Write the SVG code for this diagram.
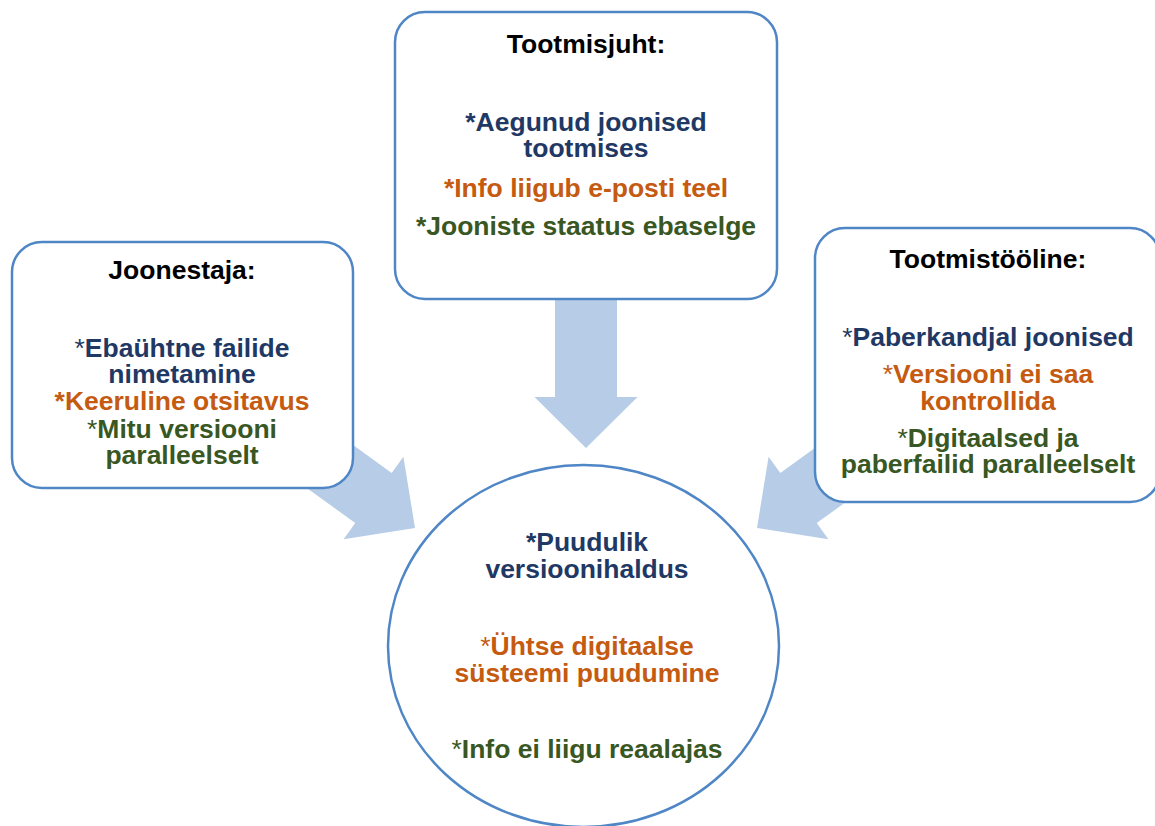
<svg xmlns="http://www.w3.org/2000/svg" width="1155" height="826" viewBox="0 0 1155 826">
  <style>
    .box { fill: #ffffff; stroke: #4F86C6; stroke-width: 2.5; }
    .arrow { fill: #B7CCE6; stroke: none; }
    text { font-family: "Liberation Sans", Arial, sans-serif; font-weight: bold; font-size: 26.5px; text-anchor: middle; }
    .title { fill: #000000; }
    .blue { fill: #1F3864; }
    .orange { fill: #C55A11; }
    .green { fill: #385723; }
    .n { font-weight: normal; }
  </style>
  <rect width="1155" height="826" fill="#ffffff"/>
  <g id="connectors">
    <polygon class="arrow" points="555,290 617,290 617,397 637.5,397 586,448 534.5,397 555,397"/>
    <polygon class="arrow" points="270.2,385 391.7,472.9 403.4,456.7 415,528 343.6,539.3 355.3,523.1 233.8,435.2"/>
    <polygon class="arrow" points="901.8,385 780.3,472.9 768.6,456.7 757,528 828.4,539.3 816.7,523.1 938.2,435.2"/>
  </g>
  <g id="tootmisjuht">
    <rect class="box" x="395" y="12" width="382" height="287" rx="30" ry="30"/>
    <text class="title" x="586" y="53">Tootmisjuht:</text>
    <text class="blue" x="586" y="131">*Aegunud joonised</text>
    <text class="blue" x="586" y="157">tootmises</text>
    <text class="orange" x="586" y="197">*Info liigub e-posti teel</text>
    <text class="green" x="586" y="235">*Jooniste staatus ebaselge</text>
  </g>
  <g id="joonestaja">
    <rect class="box" x="12" y="242" width="341" height="246" rx="30" ry="30"/>
    <text class="title" x="182" y="279">Joonestaja:</text>
    <text class="blue" x="182" y="357"><tspan class="n">*</tspan>Ebaühtne failide</text>
    <text class="blue" x="182" y="383">nimetamine</text>
    <text class="orange" x="182" y="410">*Keeruline otsitavus</text>
    <text class="green" x="182" y="438"><tspan class="n">*</tspan>Mitu versiooni</text>
    <text class="green" x="182" y="464">paralleelselt</text>
  </g>
  <g id="tootmistooline">
    <rect class="box" x="815" y="228" width="345" height="274" rx="30" ry="30"/>
    <text class="title" x="988" y="268">Tootmistööline:</text>
    <text class="blue" x="988" y="346"><tspan class="n">*</tspan>Paberkandjal joonised</text>
    <text class="orange" x="988" y="383"><tspan class="n">*</tspan>Versiooni ei saa</text>
    <text class="orange" x="988" y="410">kontrollida</text>
    <text class="green" x="988" y="447"><tspan class="n">*</tspan>Digitaalsed ja</text>
    <text class="green" x="988" y="473">paberfailid paralleelselt</text>
  </g>
  <g id="probleemid">
    <ellipse class="box" cx="583.5" cy="646" rx="195.5" ry="181"/>
    <text class="blue" x="587" y="551">*Puudulik</text>
    <text class="blue" x="587" y="578">versioonihaldus</text>
    <text class="orange" x="587" y="655"><tspan class="n">*</tspan>Ühtse digitaalse</text>
    <text class="orange" x="587" y="682">süsteemi puudumine</text>
    <text class="green" x="587" y="758"><tspan class="n">*</tspan>Info ei liigu reaalajas</text>
  </g>
</svg>
